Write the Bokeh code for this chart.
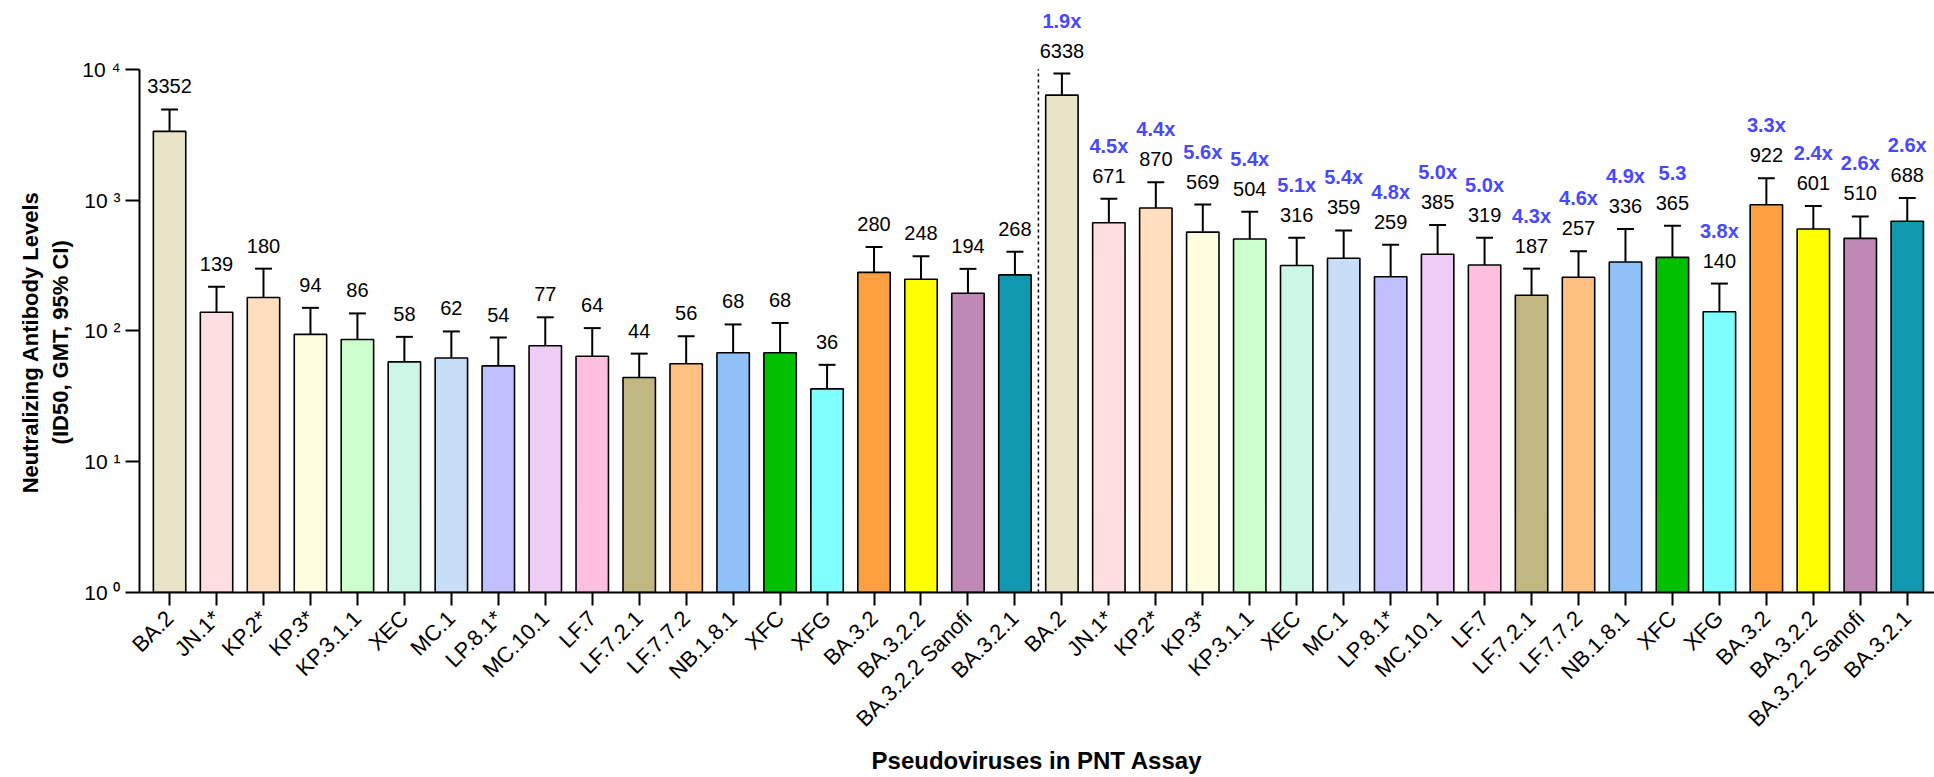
import math
from bokeh.plotting import figure
from bokeh.models import Range1d, FixedTicker, ColumnDataSource
from bokeh.core.properties import value
from bokeh.embed import file_html
from bokeh.resources import INLINE

# ---------------- data ----------------
variants = ["BA.2", "JN.1*", "KP.2*", "KP.3*", "KP.3.1.1", "XEC", "MC.1", "LP.8.1*",
            "MC.10.1", "LF.7", "LF.7.2.1", "LF.7.7.2", "NB.1.8.1", "XFC", "XFG",
            "BA.3.2", "BA.3.2.2", "BA.3.2.2 Sanofi", "BA.3.2.1"]
colors = ["#E9E4C8", "#FFDEE1", "#FFDFC0", "#FFFDE0", "#CCFFCC", "#CCF6E6", "#C8DDF6",
          "#C0C0FF", "#EDCCF6", "#FFC0E0", "#C0B880", "#FFC080", "#90C0F8", "#00C000",
          "#80FFFF", "#FFA040", "#FFFF00", "#C088B4", "#1098B0"]

gmt_pre = [3352, 139, 180, 94, 86, 58, 62, 54, 77, 64, 44, 56, 68, 68, 36, 280, 248, 194, 268]
upper_pre = [4930, 217, 299, 150, 136, 90, 99, 89, 127, 105, 67, 91, 112, 115, 55, 438, 372, 298, 403]

gmt_post = [6338, 671, 870, 569, 504, 316, 359, 259, 385, 319, 187, 257, 336, 365, 140, 922, 601, 510, 688]
upper_post = [9270, 1022, 1371, 925, 813, 516, 586, 456, 644, 516, 299, 406, 600, 637, 230, 1469, 902, 749, 1037]
fold_post = ["1.9x", "4.5x", "4.4x", "5.6x", "5.4x", "5.1x", "5.4x", "4.8x", "5.0x", "5.0x",
             "4.3x", "4.6x", "4.9x", "5.3", "3.8x", "3.3x", "2.4x", "2.6x", "2.6x"]

y_ticks = [1, 10, 100, 1000, 10000]
y_tick_labels = ["10 \u2070", "10 \u00b9", "10 \u00b2", "10 \u00b3", "10 \u2074"]

y_title_lines = ["Neutralizing Antibody Levels", "(ID50, GMT, 95% CI)"]
x_title = "Pseudoviruses in PNT Assay"

# ---------------- build ----------------
n = len(variants)
labels = variants + variants
xs = list(range(2 * n))
gmt = gmt_pre + gmt_post
upper = upper_pre + upper_post
fills = colors + colors

FONT = "Liberation Sans"
Y_TOP = 10 ** 4.5257   # headroom above 10^4 for the value / fold labels

p = figure(width=1919, height=777,
           x_range=Range1d(-0.64, 2 * n - 1 + 0.58),
           y_range=Range1d(1, Y_TOP),
           y_axis_type="log",
           output_backend="svg", toolbar_location=None,
           min_border_left=0, min_border_right=0, min_border_top=0, min_border_bottom=183)
p.margin = (0, 0, 0, 15)
p.outline_line_color = None
p.xgrid.grid_line_color = None
p.ygrid.grid_line_color = None
p.background_fill_color = "white"

src = ColumnDataSource(dict(x=xs, top=gmt, upper=upper, color=fills,
                            txt=[str(v) for v in gmt]))

p.vbar(x="x", top="top", bottom=1, width=0.69, fill_color="color",
       line_color="black", line_width=1.6, source=src)

# error bars (upper only) with caps
p.segment(x0="x", y0="top", x1="x", y1="upper", line_color="black", line_width=2, source=src)
cap_src = ColumnDataSource(dict(x0=[x - 0.18 for x in xs], x1=[x + 0.18 for x in xs], y=upper))
p.segment(x0="x0", y0="y", x1="x1", y1="y", line_color="black", line_width=2, source=cap_src)

# value labels
p.text(x="x", y="upper", text="txt", source=src, y_offset=-23,
       text_align="center", text_baseline="middle",
       text_font=value(FONT), text_font_size="20px", text_color="black")

# fold labels (second group)
fold_src = ColumnDataSource(dict(x=xs[n:], y=upper_post, t=fold_post))
p.text(x="x", y="y", text="t", source=fold_src, y_offset=-53,
       text_align="center", text_baseline="middle",
       text_font=value(FONT), text_font_size="20px", text_font_style="bold",
       text_color="#4848FF")

# dashed divider
p.segment(x0=[n - 0.5], y0=[1], x1=[n - 0.5], y1=[10000],
          line_color="black", line_width=1.5, line_dash="3 3")

# x axis
xa = p.xaxis[0]
xa.ticker = FixedTicker(ticks=xs)
xa.major_label_overrides = {i: lab for i, lab in zip(xs, labels)}
xa.major_label_orientation = math.pi / 4
xa.major_label_text_font = FONT
xa.major_label_text_font_size = "22px"
xa.major_label_text_color = "black"
xa.major_tick_out = 13
xa.major_tick_in = 0
xa.minor_tick_line_color = None
xa.axis_line_width = 2
xa.major_tick_line_width = 2
xa.major_label_standoff = 9
xa.axis_label = x_title
xa.axis_label_text_font = FONT
xa.axis_label_text_font_size = "24px"
xa.axis_label_text_font_style = "bold"
xa.axis_label_text_color = "black"
xa.axis_label_standoff = 4

# y axis (line stops at 10^4)
ya = p.yaxis[0]
ya.ticker = FixedTicker(ticks=y_ticks)
ya.major_label_overrides = {t: l for t, l in zip(y_ticks, y_tick_labels)}
ya.bounds = (1, 10000)
ya.major_label_text_font = FONT
ya.major_label_text_font_size = "21px"
ya.major_label_text_color = "black"
ya.major_tick_out = 14
ya.major_tick_in = 0
ya.minor_tick_line_color = None
ya.axis_line_width = 2
ya.major_tick_line_width = 2
ya.major_label_standoff = 5
# trailing no-break spaces centre the visible title on the 10^0..10^4 span
pad = "\u00a0" * 15
ya.axis_label = "\n".join(line + pad for line in y_title_lines)
ya.axis_label_text_font = FONT
ya.axis_label_text_font_size = "22px"
ya.axis_label_text_font_style = "bold"
ya.axis_label_text_color = "black"
ya.axis_label_standoff = 6

open("out.html", "w").write(file_html(p, INLINE))
